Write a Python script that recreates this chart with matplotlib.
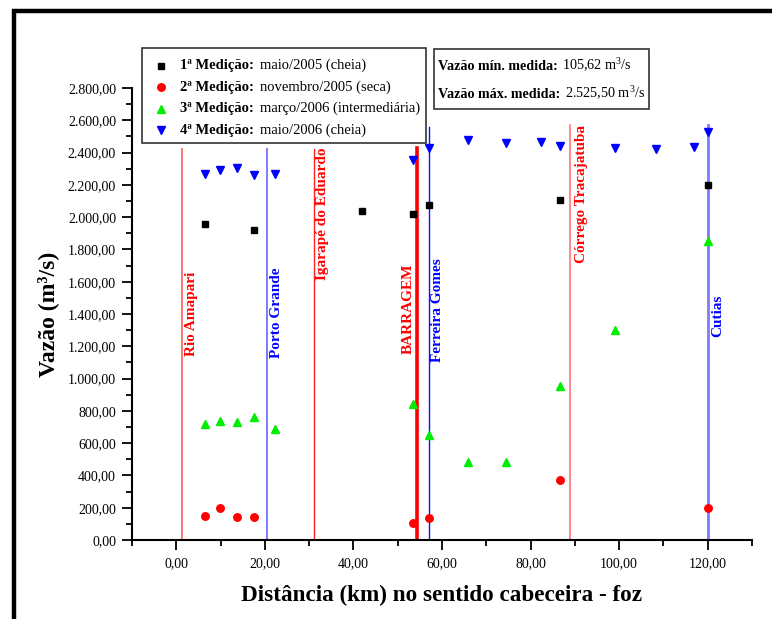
import matplotlib
matplotlib.use("Agg")
import matplotlib.pyplot as plt
from matplotlib.lines import Line2D
from matplotlib.patches import Rectangle
from matplotlib.offsetbox import AnchoredOffsetbox, TextArea, DrawingArea, HPacker, VPacker
from matplotlib.ticker import MultipleLocator, FuncFormatter

plt.rcParams['font.family'] = ['Liberation Serif', 'DejaVu Serif']
plt.rcParams['mathtext.fontset'] = 'custom'
plt.rcParams['mathtext.rm'] = 'Liberation Serif'
plt.rcParams['mathtext.bf'] = 'Liberation Serif:bold'

# medições (distância em km, vazão em m3/s)
x_med1 = [6.5, 17.6, 42.0, 53.4, 57.1, 86.7, 120.0]
y_med1 = [1960, 1923, 2035, 2022, 2074, 2109, 2198]
x_med2 = [6.5, 9.8, 13.7, 17.6, 53.4, 57.1, 86.7, 120.0]
y_med2 = [151, 199, 145, 141, 105.62, 136, 370, 200]
x_med3 = [6.5, 9.8, 13.7, 17.6, 22.3, 53.4, 57.1, 65.8, 74.4, 86.7, 99.0, 120.0]
y_med3 = [718, 738, 728, 761, 690, 844, 651, 484, 484, 955, 1303, 1855]
x_med4 = [6.5, 9.8, 13.7, 17.6, 22.3, 53.4, 57.1, 65.8, 74.4, 82.3, 86.7, 99.0, 108.4, 116.9, 120.0]
y_med4 = [2269, 2291, 2302, 2264, 2269, 2353, 2426, 2477, 2461, 2467, 2440, 2430, 2420, 2436, 2525.5]

legendas = [
    ("1ª Medição:", "maio/2005 (cheia)"),
    ("2ª Medição:", "novembro/2005 (seca)"),
    ("3ª Medição:", "março/2006 (intermediária)"),
    ("4ª Medição:", "maio/2006 (cheia)"),
]

# locais de referência ao longo do rio
locais = ["Rio Amapari", "Porto Grande", "Igarapé do Eduardo", "BARRAGEM",
          "Ferreira Gomes", "Córrego Tracajatuba", "Cutias"]
locais_km = [1.3, 20.5, 31.0, 54.3, 57.1, 88.9, 120.0]
locais_topo = [2420, 2420, 2420, 2430, 2560, 2570, 2570]
locais_cor = ['#ff6a6a', '#7b7bff', '#ff2020', '#ff0000', '#1010ff', '#ff6a6a', '#7b7bff']
locais_cor_txt = ['red', 'blue', 'red', 'red', 'blue', 'red', 'blue']
locais_lw = [1.3, 1.4, 1.0, 2.6, 1.0, 1.1, 2.0]
rot_x = [3.5, 22.7, 33.0, 52.3, 58.9, 91.6, 122.3]
rot_y = [1140, 1125, 1613, 1150, 1104, 1719, 1260]

fig = plt.figure(figsize=(7.72, 6.19), dpi=100)
ax = fig.add_axes([132 / 772, 79 / 619, 620 / 772, 452 / 619])

# moldura externa
fig.add_artist(Rectangle((13.5 / 772, -0.1), 1.2, 0.1 + 608 / 619, transform=fig.transFigure,
                         fill=False, edgecolor='black', linewidth=3.2, clip_on=False))

for i in range(len(locais)):
    ax.plot([locais_km[i], locais_km[i]], [0, locais_topo[i]], color=locais_cor[i],
            lw=locais_lw[i], zorder=1)
    ax.text(rot_x[i], rot_y[i], locais[i], rotation=90, ha='center', va='bottom',
            color=locais_cor_txt[i], fontsize=11, fontweight='bold')

marcas = [('s', 'black', 4.6), ('o', 'red', 5.4), ('^', '#00ee00', 6), ('v', 'blue', 6)]
series = [(x_med1, y_med1), (x_med2, y_med2), (x_med3, y_med3), (x_med4, y_med4)]
for (xs, ys), (m, c, ms) in zip(series, marcas):
    ax.plot(xs, ys, m, color=c, ms=ms, ls='none', zorder=3)

ax.set_xlim(-10, 130)
ax.set_ylim(0, 2800)
ax.spines['top'].set_visible(False)
ax.spines['right'].set_visible(False)
for s in ['left', 'bottom']:
    ax.spines[s].set_linewidth(1.5)

def br(v, pos):
    return f"{v:,.2f}".replace(",", "X").replace(".", ",").replace("X", ".")

ax.xaxis.set_major_locator(MultipleLocator(20))
ax.xaxis.set_minor_locator(MultipleLocator(10))
ax.yaxis.set_major_locator(MultipleLocator(200))
ax.yaxis.set_minor_locator(MultipleLocator(100))
ax.xaxis.set_major_formatter(FuncFormatter(br))
ax.yaxis.set_major_formatter(FuncFormatter(br))
ax.tick_params(which='major', direction='out', length=7, width=1.3, labelsize=10)
ax.tick_params(axis='x', which='major', pad=5.5)
ax.tick_params(axis='y', which='major', pad=4.5)
ax.tick_params(which='minor', direction='out', length=4, width=1.3)

ax.set_xlabel("Distância (km) no sentido cabeceira - foz", fontsize=16.7, fontweight='bold')
ax.xaxis.set_label_coords(0.5, -0.100)
ax.set_ylabel("Vazão (m³/s)", fontsize=17, fontweight='bold')
ax.yaxis.set_label_coords(-0.118, 0.5)

# legenda com parte em negrito
linhas = []
for (neg, reg), (m, c, ms) in zip(legendas, marcas):
    da = DrawingArea(18, 10, 0, 0)
    da.add_artist(Line2D([9], [5], marker=m, color=c, ms=ms, ls='none'))
    linhas.append(HPacker(children=[da,
                                    TextArea(neg, textprops=dict(fontweight='bold', size=10.5)),
                                    TextArea(reg, textprops=dict(size=10.5))],
                          pad=0, sep=4.5, align='center'))
caixa = VPacker(children=[DrawingArea(1, 3.2),
                          VPacker(children=linhas, pad=0, sep=5.5, align='left')],
                pad=0, sep=0, align='left')
leg = AnchoredOffsetbox(loc='upper left', child=caixa, pad=0.45, borderpad=0, frameon=True,
                        bbox_to_anchor=(142 / 772, 1 - 48 / 619), bbox_transform=fig.transFigure,
                        prop=dict(size=10))
leg.patch.set_edgecolor('#333333')
leg.patch.set_linewidth(1.2)
leg.patch.set_boxstyle('square', pad=0)
fig.add_artist(leg)

linhas_info = VPacker(children=[
    HPacker(children=[TextArea("Vazão mín. medida:", textprops=dict(fontweight='bold', size=10.2)),
                      TextArea("105,62 m$^3$/s", textprops=dict(size=10.2))], pad=0, sep=3, align='baseline'),
    HPacker(children=[TextArea("Vazão máx. medida:", textprops=dict(fontweight='bold', size=10.2)),
                      TextArea("2.525,50 m$^3$/s", textprops=dict(size=10.2))], pad=0, sep=3, align='baseline'),
], pad=0, sep=7.2, align='left')
info = VPacker(children=[DrawingArea(1, 1.8), linhas_info, DrawingArea(1, 2.2)],
               pad=0, sep=0, align='left')
box = AnchoredOffsetbox(loc='upper left', child=info, pad=0.3, borderpad=0, frameon=True,
                        bbox_to_anchor=(434 / 772, 1 - 49 / 619), bbox_transform=fig.transFigure,
                        prop=dict(size=10))
box.patch.set_edgecolor('#333333')
box.patch.set_linewidth(1.2)
box.patch.set_boxstyle('square', pad=0)
fig.add_artist(box)

fig.savefig("out.png", dpi=100)
